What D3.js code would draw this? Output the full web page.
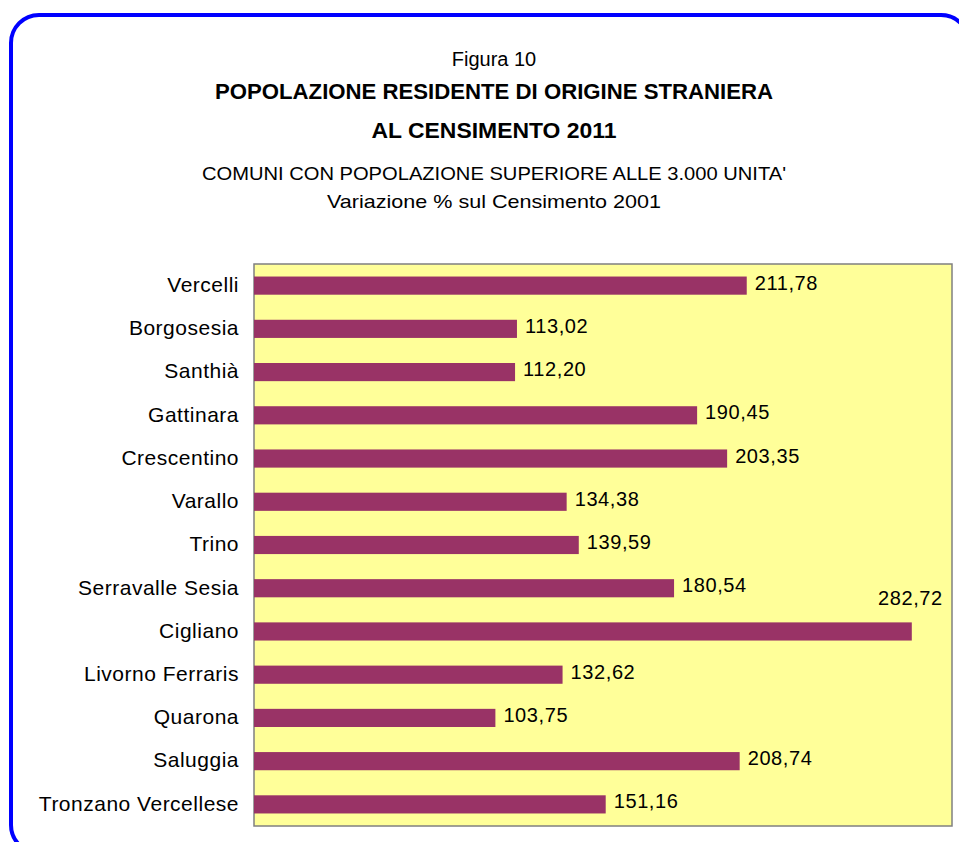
<!DOCTYPE html>
<html>
<head>
<meta charset="utf-8">
<script src="https://cdn.jsdelivr.net/npm/d3@7"></script>
<style>
  body { margin: 0; background: #fff; }
  text { font-family: "Liberation Sans", Arial, sans-serif; fill: #000; }
</style>
</head>
<body>
<div id="graph"></div>
<script>
// data
var comuni = ["Vercelli", "Borgosesia", "Santhià", "Gattinara", "Crescentino", "Varallo", "Trino",
  "Serravalle Sesia", "Cigliano", "Livorno Ferraris", "Quarona", "Saluggia", "Tronzano Vercellese"];
var variazione = [211.78, 113.02, 112.20, 190.45, 203.35, 134.38, 139.59, 180.54, 282.72, 132.62, 103.75, 208.74, 151.16];
var xTicks = [0, 300];

var width = 959, height = 842;
var margin = {top: 264, right: 7, bottom: 16, left: 254};
var w = width - margin.left - margin.right,
    h = height - margin.top - margin.bottom;

var svg = d3.select("#graph").append("svg")
    .attr("width", width)
    .attr("height", height);

// blue rounded frame
svg.append("rect")
    .attr("x", 11).attr("y", 15)
    .attr("width", 958).attr("height", 838)
    .attr("rx", 28).attr("ry", 28)
    .attr("fill", "none")
    .attr("stroke", "#0000ff")
    .attr("stroke-width", 4);

// titles
var cx = 494;
svg.append("text").attr("x", cx).attr("y", 66).attr("text-anchor", "middle")
    .style("font-size", "20px").text("Figura 10");
svg.append("text").attr("x", cx).attr("y", 99).attr("text-anchor", "middle")
    .attr("textLength", 558).attr("lengthAdjust", "spacingAndGlyphs")
    .style("font-size", "22px").style("font-weight", "bold")
    .text("POPOLAZIONE RESIDENTE DI ORIGINE STRANIERA");
svg.append("text").attr("x", cx).attr("y", 138).attr("text-anchor", "middle")
    .attr("textLength", 245).attr("lengthAdjust", "spacingAndGlyphs")
    .style("font-size", "22px").style("font-weight", "bold")
    .text("AL CENSIMENTO 2011");
svg.append("text").attr("x", cx).attr("y", 180).attr("text-anchor", "middle")
    .attr("textLength", 584).attr("lengthAdjust", "spacingAndGlyphs")
    .style("font-size", "19px")
    .text("COMUNI CON POPOLAZIONE SUPERIORE ALLE 3.000 UNITA'");
svg.append("text").attr("x", cx).attr("y", 208).attr("text-anchor", "middle")
    .attr("textLength", 334).attr("lengthAdjust", "spacingAndGlyphs")
    .style("font-size", "19px")
    .text("Variazione % sul Censimento 2001");

var g = svg.append("g")
    .attr("transform", "translate(" + margin.left + "," + margin.top + ")");

var x = d3.scaleLinear().domain([xTicks[0], xTicks[1]]).range([0, w]);
var y = d3.scaleBand().domain(comuni).range([0, h]).paddingInner(0.58).paddingOuter(0.29);

// plot area
g.append("rect")
    .attr("width", w).attr("height", h)
    .attr("fill", "#ffff99")
    .attr("stroke", "#808080")
    .attr("stroke-width", 1.5);

// bars
g.selectAll(".bar")
    .data(comuni)
  .enter().append("rect")
    .attr("class", "bar")
    .attr("x", 0)
    .attr("y", function(d) { return y(d); })
    .attr("width", function(d, i) { return x(variazione[i]); })
    .attr("height", y.bandwidth())
    .attr("fill", "#993366");

// value labels (the longest bar gets its label above, right-aligned)
var fmt = function(v) { return v.toFixed(2).replace(".", ","); };
var isLong = function(i) { return x(variazione[i]) > w - 80; };
g.selectAll(".val")
    .data(comuni)
  .enter().append("text")
    .attr("class", "val")
    .attr("x", function(d, i) { return isLong(i) ? x(variazione[i]) + 31 : x(variazione[i]) + 8; })
    .attr("y", function(d, i) {
      var c = y(d) + y.bandwidth() / 2;
      return isLong(i) ? c - 26 : c + 4;
    })
    .attr("text-anchor", function(d, i) { return isLong(i) ? "end" : "start"; })
    .style("font-size", "20px")
    .style("letter-spacing", "0.6px")
    .text(function(d, i) { return fmt(variazione[i]); });

// category axis
var yAxis = g.append("g")
    .call(d3.axisLeft(y).tickSize(0).tickPadding(15));
yAxis.select(".domain").remove();
yAxis.selectAll("text")
    .style("font-size", "21px")
    .style("letter-spacing", "0.5px")
    .attr("dy", "0.3em");
</script>
</body>
</html>
